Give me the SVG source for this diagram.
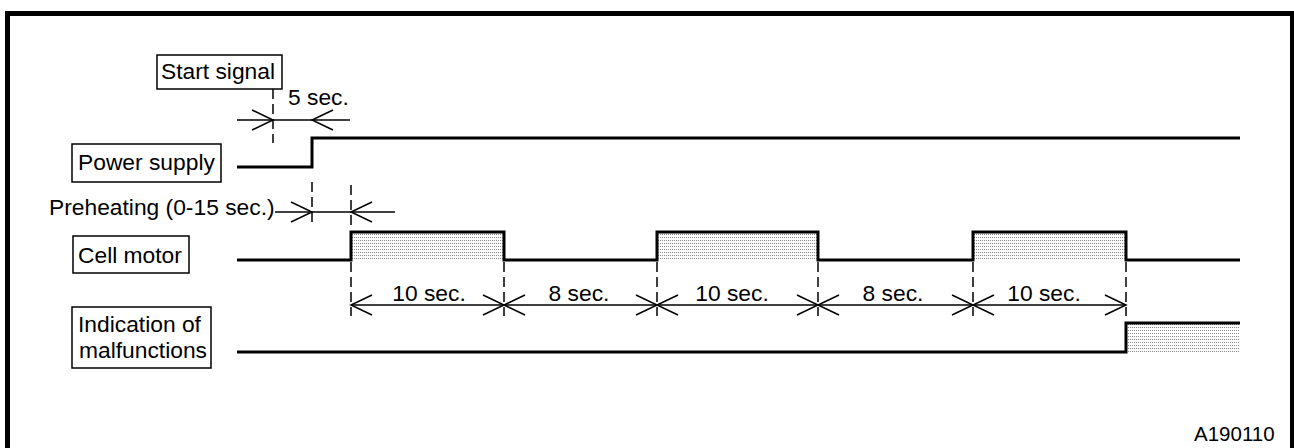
<svg xmlns="http://www.w3.org/2000/svg" width="1294" height="448" viewBox="0 0 1294 448">
<style>
.t{font-family:"Liberation Sans",Arial,sans-serif;font-size:22.8px;fill:#000}
.box{fill:#fff;stroke:#000;stroke-width:1.5}
.sig{fill:none;stroke:#000;stroke-width:3;stroke-linejoin:miter}
.dim{fill:none;stroke:#000;stroke-width:1.5}
.dash{fill:none;stroke:#000;stroke-width:1.5;stroke-dasharray:10,5}
.ar{marker-end:url(#ah)}
.ar2{marker-start:url(#ah);marker-end:url(#ah)}
</style>
<defs>
<pattern id="dots" width="2" height="3" patternUnits="userSpaceOnUse">
<rect width="2" height="3" fill="#fff"/>
<rect x="0" y="0" width="1" height="1" fill="#8a8a8a"/>
</pattern>
<marker id="ah" markerUnits="userSpaceOnUse" orient="auto-start-reverse" overflow="visible" refX="0" refY="0" markerWidth="1" markerHeight="1">
<path d="M-21,-10 L0,0 L-21,10" fill="none" stroke="#000" stroke-width="1.5"/>
</marker>
</defs>
<rect width="1294" height="448" fill="#fff"/>
<path d="M7.5,448 V13.5 H1292.5 V448" fill="none" stroke="#000" stroke-width="5"/>

<g id="start-signal">
<rect class="box" x="157" y="55" width="125" height="34"/>
<text class="t" x="161" y="79">Start signal</text>
</g>
<g id="power-supply">
<rect class="box" x="72" y="144" width="149" height="38"/>
<text class="t" x="78" y="170">Power supply</text>
<path class="sig" d="M237,167 H312 V138 H1240"/>
</g>
<g id="preheating">
<text class="t" x="49" y="215">Preheating (0-15 sec.)</text>
</g>
<g id="cell-motor">
<rect class="box" x="73" y="236" width="116" height="37"/>
<text class="t" x="78" y="263">Cell motor</text>
<rect x="352" y="233" width="151" height="26" fill="url(#dots)"/>
<rect x="658" y="233" width="159" height="26" fill="url(#dots)"/>
<rect x="974" y="233" width="151" height="26" fill="url(#dots)"/>
<path class="sig" d="M237,260 H351 V232 H504 V260 H657 V232 H818 V260 H973 V232 H1126 V260 H1240"/>
</g>
<g id="indication">
<rect class="box" x="72" y="307" width="139" height="61"/>
<text class="t" x="78" y="332">Indication of</text>
<text class="t" x="79" y="358">malfunctions</text>
<rect x="1127" y="324" width="113" height="28" fill="url(#dots)"/>
<path class="sig" d="M237,352 H1126 V323 H1240"/>
</g>

<g id="connectors">
<path class="dash" d="M273,89 V143"/>
<path class="dash" d="M312,182 V227"/>
<path class="dash" d="M351,185 V230"/>
<path class="dash" d="M351,262 V316"/>
<path class="dash" d="M504,262 V316"/>
<path class="dash" d="M657,262 V316"/>
<path class="dash" d="M818,262 V316"/>
<path class="dash" d="M973,262 V316"/>
<path class="dash" d="M1126,262 V316"/>
<path class="dim ar" d="M237,120 H273"/>
<path class="dim" d="M273,120 H312"/>
<path class="dim ar" d="M350,120 H312"/>
<path class="dim ar" d="M275,212 H312"/>
<path class="dim" d="M312,212 H351"/>
<path class="dim ar" d="M395,212 H351"/>
<path class="dim ar2" d="M351,305 H504"/>
<path class="dim ar2" d="M504,305 H657"/>
<path class="dim ar2" d="M657,305 H818"/>
<path class="dim ar2" d="M818,305 H973"/>
<path class="dim ar2" d="M973,305 H1126"/>
</g>

<g id="labels">
<text class="t" x="288" y="105">5 sec.</text>
<text class="t" x="429" y="301" text-anchor="middle">10 sec.</text>
<text class="t" x="579" y="301" text-anchor="middle">8 sec.</text>
<text class="t" x="732" y="301" text-anchor="middle">10 sec.</text>
<text class="t" x="893" y="301" text-anchor="middle">8 sec.</text>
<text class="t" x="1044" y="301" text-anchor="middle">10 sec.</text>
<text class="t" x="1194" y="441" style="font-size:20.5px">A190110</text>
</g>
</svg>
